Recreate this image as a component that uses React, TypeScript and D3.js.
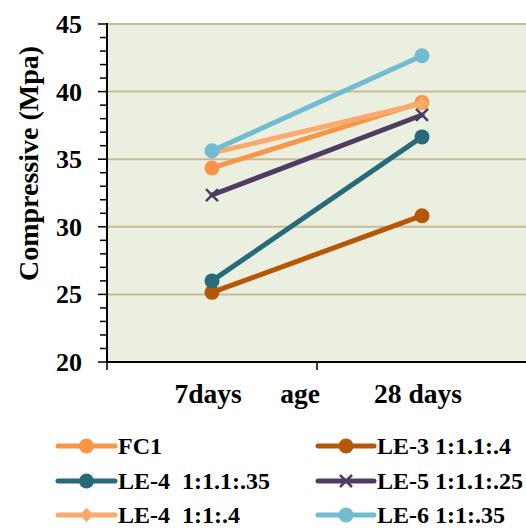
import React from "react";
import * as d3 from "d3";

const ages = ["7days", "28 days"];
const seriesNames = [
  "FC1",
  "LE-3 1:1.1:.4",
  "LE-4  1:1.1:.35",
  "LE-5 1:1.1:.25",
  "LE-4  1:1:.4",
  "LE-6 1:1:.35",
];
const fc1 = [34.35, 39.2];
const le3 = [25.15, 30.82];
const le4a = [26.0, 36.65];
const le5 = [32.35, 38.27];
const le4b = [35.45, 39.12];
const le6 = [35.62, 42.65];
const colors = ["#F79646", "#B65708", "#276A7C", "#4F3C62", "#FAAA6C", "#72BCD1"];
const markers = ["circle", "circle", "circle", "cross", "diamond", "circle"];
const yTicks = [20, 25, 30, 35, 40, 45];

const W = 526;
const H = 530;
const plot = { left: 107, right: 527, top: 24, bottom: 362 };
const FONT = "'Liberation Serif', 'Times New Roman', serif";

function Marker({ kind, x, y, color }: { kind: string; x: number; y: number; color: string }) {
  if (kind === "circle") return <circle cx={x} cy={y} r={7.5} fill={color} />;
  if (kind === "diamond") {
    const s = 7;
    return <path d={`M${x},${y - s}L${x + s},${y}L${x},${y + s}L${x - s},${y}Z`} fill={color} />;
  }
  const s = 6;
  return (
    <path
      d={`M${x - s},${y - s}L${x + s},${y + s}M${x - s},${y + s}L${x + s},${y - s}`}
      stroke={color}
      strokeWidth={2.5}
      fill="none"
    />
  );
}

export default function App() {
  const series = [fc1, le3, le4a, le5, le4b, le6];
  const x = d3.scalePoint<string>().domain(ages).range([plot.left, plot.right]).padding(0.5);
  const y = d3.scaleLinear().domain([20, 45]).range([plot.bottom, plot.top]);
  const line = d3
    .line<number>()
    .x((_, i) => x(ages[i]) as number)
    .y((d) => y(d));
  const minor = d3.range(20, 45.01, 1);
  const band = (plot.right - plot.left) / ages.length;
  const xTickPos = d3.range(0, ages.length + 1).map((i) => plot.left + i * band);

  const legendCols = [
    { lx0: 58, lx1: 115, tx: 118 },
    { lx0: 318, lx1: 374, tx: 377 },
  ];
  const legendRows = [446, 481, 515];

  return (
    <svg width={W} height={H} style={{ position: "absolute", left: 0, top: 0 }} fontFamily={FONT}>
      <rect x={0} y={0} width={W} height={H} fill="#FFFFFF" />
      <rect
        x={plot.left}
        y={plot.top}
        width={plot.right - plot.left}
        height={plot.bottom - plot.top}
        fill="#EBEFDF"
      />
      {yTicks.slice(1).map((t) => (
        <line key={t} x1={plot.left} x2={plot.right} y1={y(t)} y2={y(t)} stroke="#C5BD97" strokeWidth={2} />
      ))}
      {/* axes */}
      <line x1={plot.left} x2={plot.left} y1={plot.top - 1} y2={plot.bottom} stroke="#000" strokeWidth={2} />
      <line x1={plot.left - 1} x2={plot.right} y1={plot.bottom} y2={plot.bottom} stroke="#000" strokeWidth={2} />
      {minor.map((t) => (
        <line
          key={t}
          x1={t % 5 === 0 ? plot.left - 9 : plot.left - 7}
          x2={plot.left}
          y1={y(t)}
          y2={y(t)}
          stroke="#000"
          strokeWidth={1.5}
        />
      ))}
      {xTickPos.map((p, i) => (
        <line key={i} x1={p} x2={p} y1={plot.bottom} y2={plot.bottom + 8} stroke="#000" strokeWidth={1.5} />
      ))}
      {yTicks.map((t) => (
        <text key={t} x={82} y={y(t) + 9} textAnchor="end" fontSize={26} fontWeight="bold">
          {t}
        </text>
      ))}
      {ages.map((a) => (
        <text key={a} x={(x(a) as number) - 4} y={403} textAnchor="middle" fontSize={27.5} fontWeight="bold">
          {a}
        </text>
      ))}
      <text x={300} y={403} textAnchor="middle" fontSize={27.5} fontWeight="bold">
        age
      </text>
      <text
        transform={`translate(38,${(47 + 280) / 2}) rotate(-90)`}
        textAnchor="middle"
        fontSize={28}
        fontWeight="bold"
      >
        Compressive (Mpa)
      </text>
      {/* series */}
      {series.map((vals, si) => (
        <g key={si}>
          <path d={line(vals) || ""} fill="none" stroke={colors[si]} strokeWidth={5} strokeLinecap="round" />
          {vals.map((v, i) => (
            <Marker key={i} kind={markers[si]} x={x(ages[i]) as number} y={y(v)} color={colors[si]} />
          ))}
        </g>
      ))}
      {/* legend */}
      {seriesNames.map((name, si) => {
        const col = legendCols[si % 2];
        const cy = legendRows[Math.floor(si / 2)];
        return (
          <g key={name}>
            <line x1={col.lx0} x2={col.lx1} y1={cy} y2={cy} stroke={colors[si]} strokeWidth={5} strokeLinecap="round" />
            <Marker kind={markers[si]} x={(col.lx0 + col.lx1) / 2} y={cy} color={colors[si]} />
            <text x={col.tx} y={cy + 8} fontSize={24} fontWeight="bold" style={{ whiteSpace: "pre" }}>
              {name}
            </text>
          </g>
        );
      })}
    </svg>
  );
}
